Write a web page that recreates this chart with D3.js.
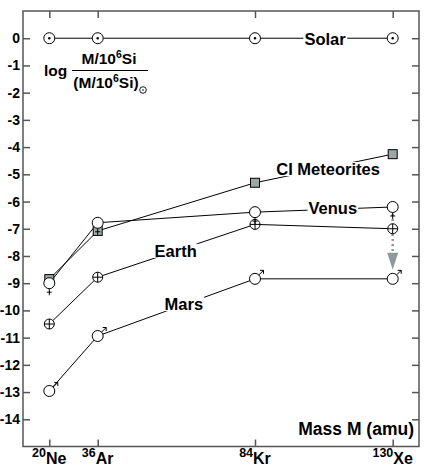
<!DOCTYPE html>
<html>
<head>
<meta charset="utf-8">
<script src="https://cdn.jsdelivr.net/npm/d3@7"></script>
<style>
  body { margin: 0; background: #fff; }
  svg { display: block; font-family: 'Liberation Sans', Arial, sans-serif; font-weight: bold; }
</style>
</head>
<body>
<div id="canvas"></div>
<script>
// isotopes along the x axis
const isotopes = ['Ne', 'Ar', 'Kr', 'Xe'];
const massNumbers = [20, 36, 84, 130];

// log abundance relative to solar, per isotope
const solar = [0, 0, 0, 0];
const ciMeteorites = [-8.85, -7.08, -5.31, -4.26];
const venus = [-9.0, -6.78, -6.39, -6.2];
const earth = [-10.5, -8.78, -6.84, -7.0];
const mars = [-12.96, -10.94, -8.84, -8.84];

const yTicks = [0, -1, -2, -3, -4, -5, -6, -7, -8, -9, -10, -11, -12, -13, -14];

const w = 426;
const h = 468;
const padL = 23, padR = 419, padT = 11, padB = 446.5;

const svg = d3.select('#canvas')
  .append('svg')
  .attr('width', w)
  .attr('height', h);

// the original axis is not quite linear in mass, so use a piecewise scale
const xScale = d3.scaleLinear()
  .domain(massNumbers)
  .range([49.3, 97.7, 255, 392.7]);

const yScale = d3.scaleLinear()
  .domain([-15, 1])
  .range([padB, padT]);

const frameColor = '#555';

// axes with inward ticks
const yAxisL = svg.append('g')
  .attr('transform', 'translate(' + padL + ',0)')
  .call(d3.axisLeft(yScale).tickValues(yTicks).tickSizeInner(-7).tickSizeOuter(0).tickPadding(3).tickFormat(d => d));
const yAxisR = svg.append('g')
  .attr('transform', 'translate(' + padR + ',0)')
  .call(d3.axisRight(yScale).tickValues(yTicks).tickSizeInner(-7).tickSizeOuter(0).tickFormat(''));
const xAxisT = svg.append('g')
  .attr('transform', 'translate(0,' + padT + ')')
  .call(d3.axisTop(xScale).tickValues(massNumbers).tickSizeInner(-7).tickSizeOuter(0).tickFormat(''));
const xAxisB = svg.append('g')
  .attr('transform', 'translate(0,' + padB + ')')
  .call(d3.axisBottom(xScale).tickValues(massNumbers).tickSizeInner(-7).tickSizeOuter(0).tickFormat(''));

[yAxisL, yAxisR, xAxisT, xAxisB].forEach(function(g) {
  g.select('.domain').remove();
  g.selectAll('line').attr('stroke', frameColor).attr('stroke-width', 1.5);
});
yAxisL.selectAll('text')
  .attr('font-size', 14)
  .attr('font-family', "'Liberation Sans', Arial, sans-serif")
  .attr('font-weight', 'bold')
  .attr('fill', '#000');

// x tick labels with superscript mass numbers
massNumbers.forEach(function(m, i) {
  const t = svg.append('text')
    .attr('x', xScale(m))
    .attr('y', 464)
    .attr('text-anchor', 'middle');
  t.append('tspan').attr('font-size', 12.5).attr('dy', -7).text(m);
  t.append('tspan').attr('font-size', 16).attr('dy', 7).text(isotopes[i]);
});

svg.append('rect')
  .attr('x', padL).attr('y', padT)
  .attr('width', padR - padL).attr('height', padB - padT)
  .attr('fill', 'none')
  .attr('stroke', frameColor)
  .attr('stroke-width', 1.5);

// series lines
const line = d3.line()
  .x((d, i) => xScale(massNumbers[i]))
  .y(d => yScale(d));

[solar, ciMeteorites, venus, earth, mars].forEach(function(s) {
  svg.append('path')
    .attr('d', line(s))
    .attr('fill', 'none')
    .attr('stroke', '#000')
    .attr('stroke-width', 1);
});

// series labels sitting on the lines (mass, value position)
const labels = [
  { text: 'Solar', m: 107.4, v: -0.02 },
  { text: 'CI Meteorites', m: 108.4, v: -4.81 },
  { text: 'Venus', m: 110, v: -6.23 },
  { text: 'Earth', m: 59.8, v: -7.81 },
  { text: 'Mars', m: 62.3, v: -9.77 }
];
labels.forEach(function(l) {
  const t = svg.append('text')
    .attr('x', xScale(l.m))
    .attr('y', yScale(l.v))
    .attr('dy', '0.36em')
    .attr('text-anchor', 'middle')
    .attr('font-size', 16.5)
    .text(l.text);
  const bb = t.node().getBBox();
  svg.insert('rect', function() { return t.node(); })
    .attr('x', bb.x - 1).attr('y', bb.y + 2)
    .attr('width', bb.width + 2).attr('height', bb.height - 4)
    .attr('fill', '#fff');
});

// gray dotted arrow at Xe, Earth down to Mars
const xe = xScale(massNumbers[3]);
const arrowTop = yScale(venus[3]) + 7;
const arrowTip = yScale(mars[3]) - 9;
svg.append('line')
  .attr('x1', xe).attr('x2', xe)
  .attr('y1', arrowTop).attr('y2', arrowTip - 15)
  .attr('stroke', '#8e9a9a')
  .attr('stroke-width', 2.5)
  .attr('stroke-dasharray', '2,3');
svg.append('path')
  .attr('d', 'M' + (xe - 5.5) + ',' + (arrowTip - 17) + 'L' + (xe + 5.5) + ',' + (arrowTip - 17) + 'L' + xe + ',' + arrowTip + 'Z')
  .attr('fill', '#8e9a9a');

// symbols
function pts(s) { return s.map((v, i) => [xScale(massNumbers[i]), yScale(v)]); }

// solar: circle with dot
pts(solar).forEach(function(p) {
  svg.append('circle').attr('cx', p[0]).attr('cy', p[1]).attr('r', 5.5)
    .attr('fill', '#fff').attr('stroke', '#000').attr('stroke-width', 1);
  svg.append('circle').attr('cx', p[0]).attr('cy', p[1]).attr('r', 1.2).attr('fill', '#000');
});

// CI meteorites: gray squares
pts(ciMeteorites).forEach(function(p) {
  svg.append('rect').attr('x', p[0] - 4.5).attr('y', p[1] - 4.5)
    .attr('width', 9).attr('height', 9)
    .attr('fill', '#9ea6a6').attr('stroke', '#000').attr('stroke-width', 1);
});

// earth: circle with cross
pts(earth).forEach(function(p) {
  svg.append('circle').attr('cx', p[0]).attr('cy', p[1]).attr('r', 5)
    .attr('fill', '#fff').attr('stroke', '#000').attr('stroke-width', 1);
  svg.append('path')
    .attr('d', 'M' + (p[0] - 5) + ',' + p[1] + 'H' + (p[0] + 5) + 'M' + p[0] + ',' + (p[1] - 5) + 'V' + (p[1] + 5))
    .attr('stroke', '#000').attr('stroke-width', 1);
});

// venus: circle with small cross below
pts(venus).forEach(function(p) {
  svg.append('circle').attr('cx', p[0]).attr('cy', p[1]).attr('r', 5.5)
    .attr('fill', '#fff').attr('stroke', '#000').attr('stroke-width', 1);
  svg.append('path')
    .attr('d', 'M' + p[0] + ',' + (p[1] + 5.5) + 'V' + (p[1] + 12) + 'M' + (p[0] - 2.5) + ',' + (p[1] + 9) + 'H' + (p[0] + 2.5))
    .attr('stroke', '#000').attr('stroke-width', 1);
});

// mars: circle with arrow to the upper right
pts(mars).forEach(function(p) {
  svg.append('circle').attr('cx', p[0]).attr('cy', p[1]).attr('r', 5.5)
    .attr('fill', '#fff').attr('stroke', '#000').attr('stroke-width', 1);
  const a = [p[0] + 3.9, p[1] - 3.9], b = [p[0] + 8.5, p[1] - 8.5];
  svg.append('path')
    .attr('d', 'M' + a[0] + ',' + a[1] + 'L' + b[0] + ',' + b[1] + 'M' + (b[0] - 3.5) + ',' + b[1] + 'L' + b[0] + ',' + b[1] + 'L' + b[0] + ',' + (b[1] + 3.5))
    .attr('fill', 'none').attr('stroke', '#000').attr('stroke-width', 1);
});

// y axis title: log of ratio to solar
svg.append('text').attr('x', 44).attr('y', 76).attr('font-size', 15.5).text('log');
const num = svg.append('text').attr('x', 109).attr('y', 64).attr('text-anchor', 'middle').attr('font-size', 15.5);
num.append('tspan').text('M/10');
num.append('tspan').attr('font-size', 10.5).attr('dy', -6).text('6');
num.append('tspan').attr('dy', 6).text('Si');
svg.append('line')
  .attr('x1', 72).attr('x2', 148).attr('y1', 70.5).attr('y2', 70.5)
  .attr('stroke', '#000').attr('stroke-width', 1.2);
const den = svg.append('text').attr('x', 106).attr('y', 88).attr('text-anchor', 'middle').attr('font-size', 15.5);
den.append('tspan').text('(M/10');
den.append('tspan').attr('font-size', 10.5).attr('dy', -6).text('6');
den.append('tspan').attr('dy', 6).text('Si)');
svg.append('circle').attr('cx', 143).attr('cy', 90).attr('r', 3.3)
  .attr('fill', 'none').attr('stroke', '#000').attr('stroke-width', 0.9);
svg.append('circle').attr('cx', 143).attr('cy', 90).attr('r', 0.8).attr('fill', '#000');

// x axis title
svg.append('text')
  .attr('x', 414)
  .attr('y', 435)
  .attr('text-anchor', 'end')
  .attr('font-size', 17.5)
  .text('Mass M (amu)');
</script>
</body>
</html>
